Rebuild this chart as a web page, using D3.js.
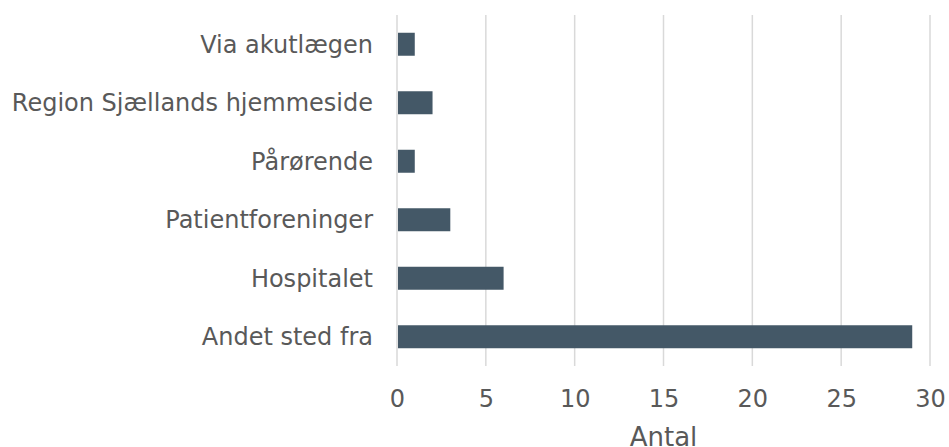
<!DOCTYPE html>
<html lang="da">
<head>
<meta charset="utf-8">
<title>Antal</title>
<script src="https://d3js.org/d3.v7.min.js"></script>
<style>
  body { margin: 0; background: #fff; }
  svg { display: block; font-family: "DejaVu Sans", Verdana, sans-serif; }
</style>
</head>
<body>
<svg id="chart" width="949" height="447"></svg>
<script>
// data
var categories = ["Via akutlægen", "Region Sjællands hjemmeside", "Pårørende",
                  "Patientforeninger", "Hospitalet", "Andet sted fra"]
var values = [1, 2, 1, 3, 6, 29]
var xTicks = [0, 5, 10, 15, 20, 25, 30]
var xTitle = "Antal"

var svg = d3.select("#chart")
// plot area (note: "top" is taken by window.top)
var plotLeft = 397, plotRight = 930, plotTop = 15, plotBottom = 366

var x = d3.scaleLinear().domain([0, 30]).range([plotLeft, plotRight])
var y = d3.scaleBand().domain(categories).range([plotTop, plotBottom])
  .paddingInner(0.607).paddingOuter(0.3035)

// gridlines
svg.append("g")
  .selectAll("line")
  .data(xTicks)
  .enter().append("line")
    .attr("x1", function (d) { return x(d) })
    .attr("x2", function (d) { return x(d) })
    .attr("y1", plotTop)
    .attr("y2", plotBottom)
    .attr("stroke", "#d9d9d9")
    .attr("stroke-width", 1.5)

// bars
svg.append("g")
  .selectAll("rect")
  .data(values)
  .enter().append("rect")
    .attr("x", x(0) + 1)
    .attr("y", function (d, i) { return y(categories[i]) })
    .attr("width", function (d) { return x(d) - x(0) - 1 })
    .attr("height", y.bandwidth())
    .attr("fill", "#445867")

// category labels
svg.append("g")
  .selectAll("text")
  .data(categories)
  .enter().append("text")
    .attr("x", plotLeft - 24)
    .attr("y", function (d) { return y(d) + y.bandwidth() / 2 })
    .attr("dy", "0.36em")
    .attr("text-anchor", "end")
    .attr("font-size", 24)
    .attr("fill", "#595959")
    .text(function (d) { return d })

// x axis
var xAxis = svg.append("g")
  .attr("transform", "translate(0," + plotBottom + ")")
  .call(d3.axisBottom(x).tickValues(xTicks).tickSize(0).tickPadding(24))
xAxis.select(".domain").remove()
xAxis.selectAll("text")
  .attr("font-size", 24)
  .attr("font-family", "DejaVu Sans, Verdana, sans-serif")
  .attr("fill", "#595959")

svg.append("text")
  .attr("x", (plotLeft + plotRight) / 2)
  .attr("y", 446)
  .attr("text-anchor", "middle")
  .attr("font-size", 26)
  .attr("fill", "#595959")
  .text(xTitle)
</script>
</body>
</html>
